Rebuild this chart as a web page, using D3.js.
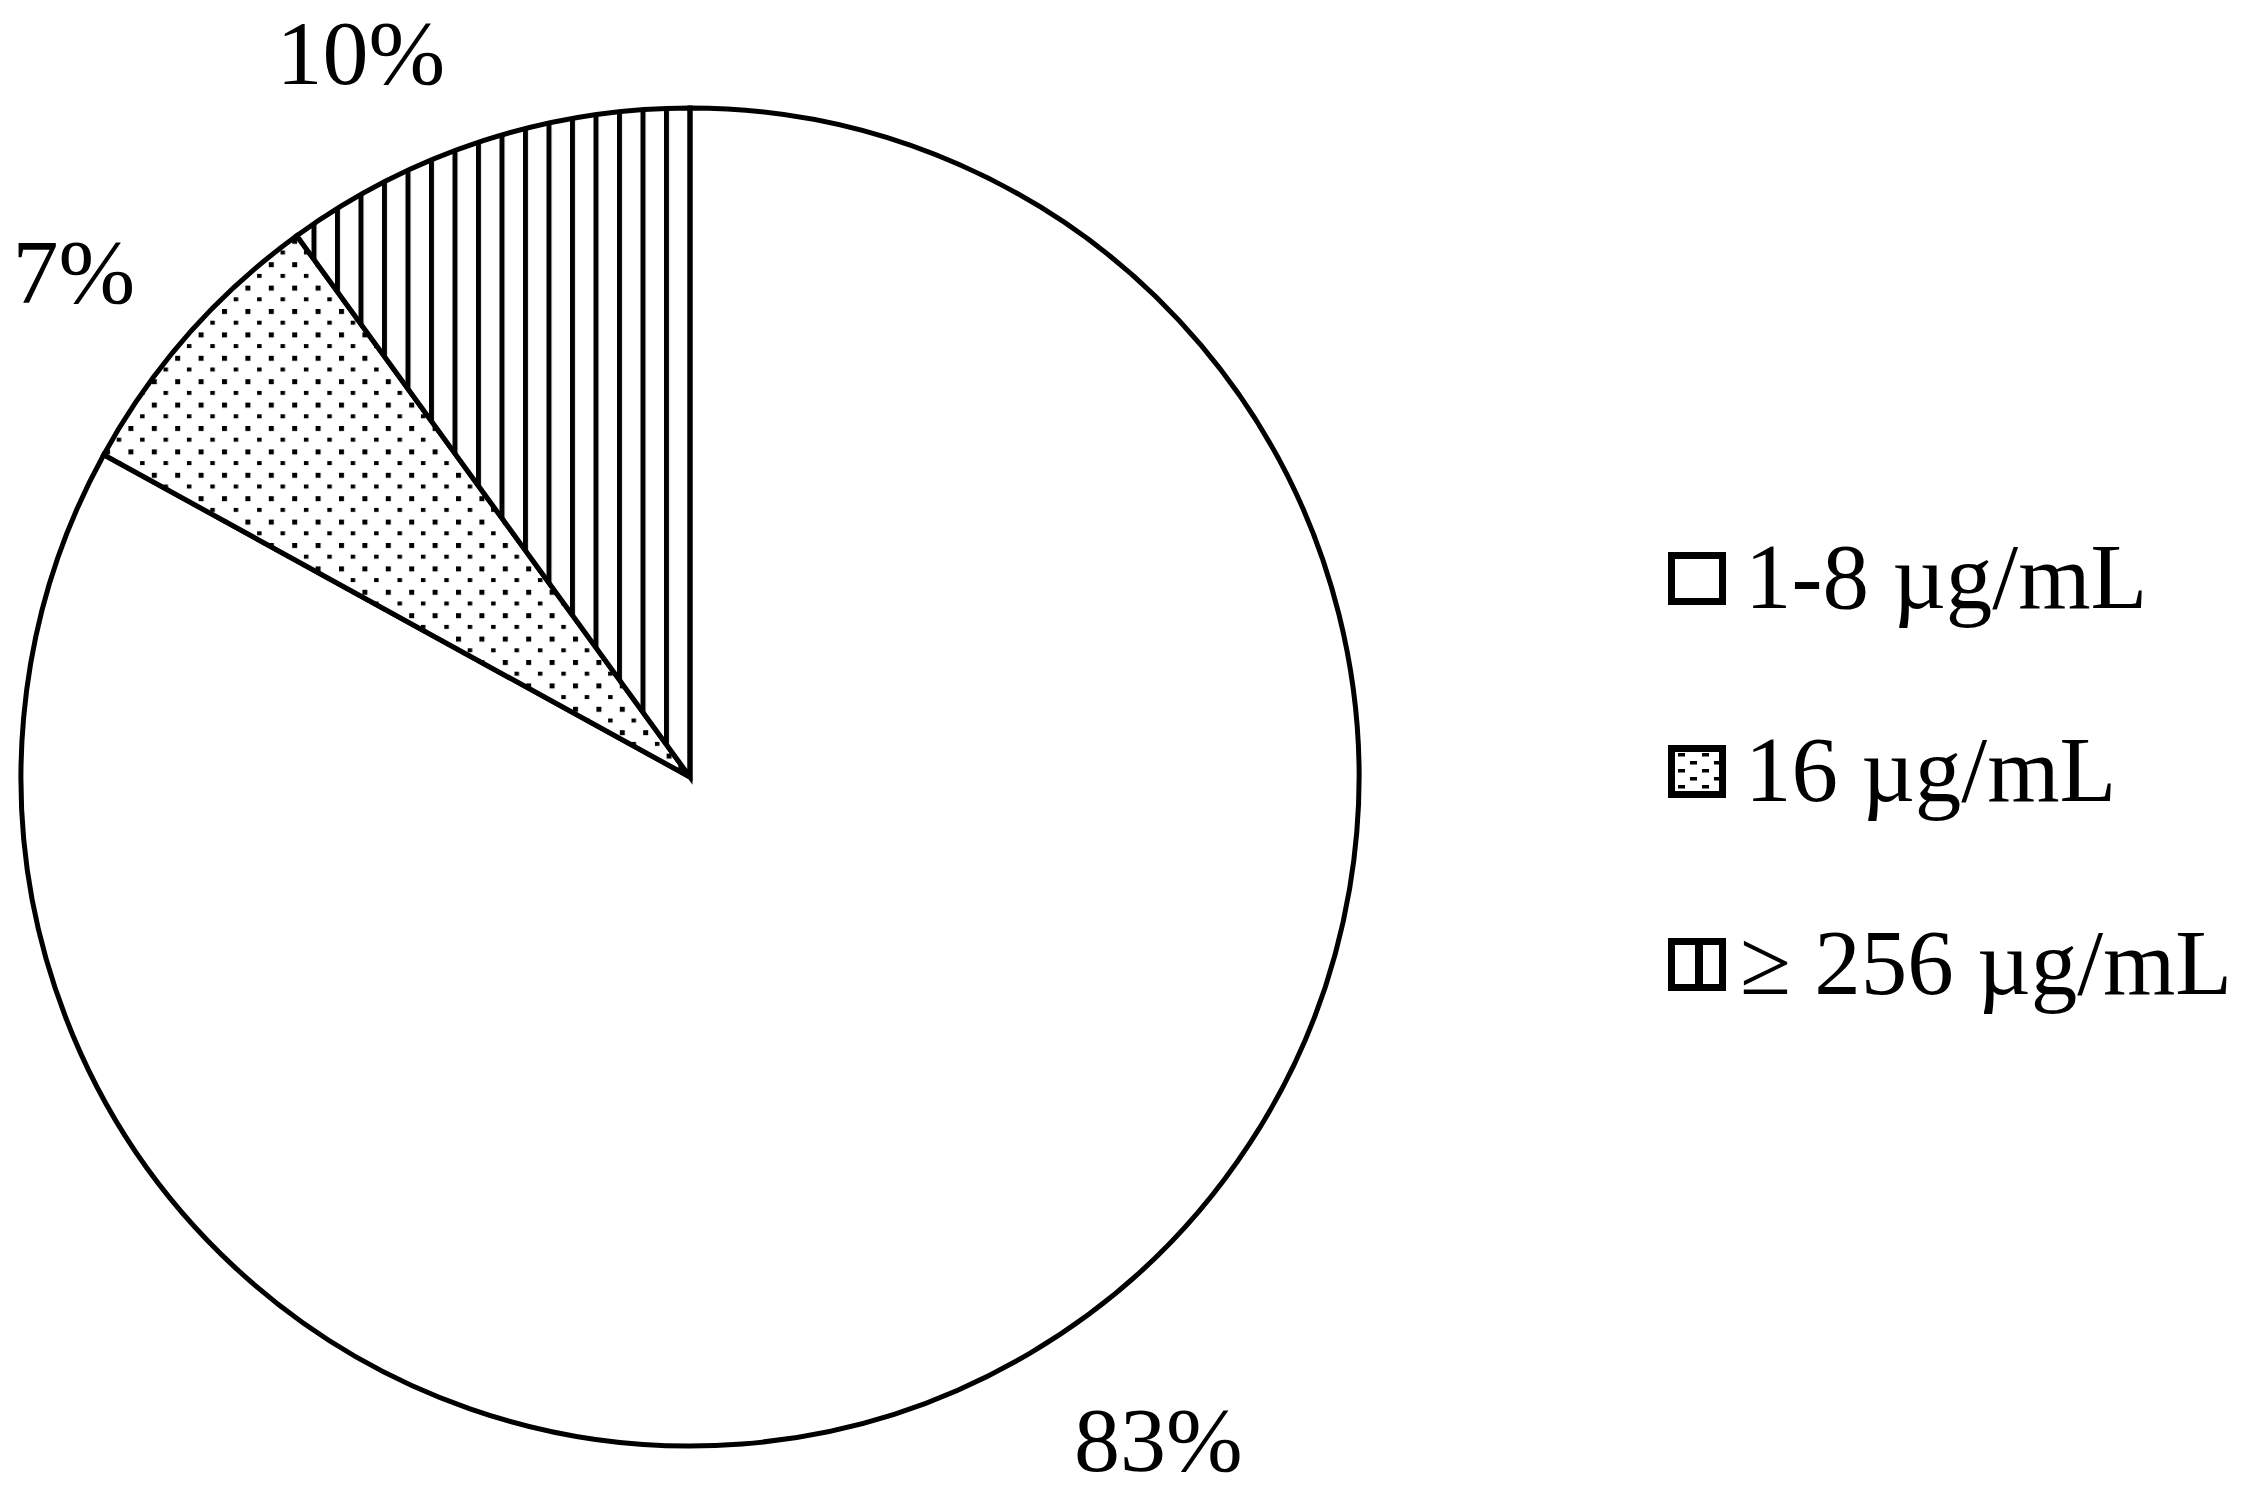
<!DOCTYPE html>
<html>
<head>
<meta charset="utf-8">
<script src="https://cdn.jsdelivr.net/npm/d3@7/dist/d3.min.js"></script>
<style>
  html, body { margin: 0; padding: 0; background: #fff; }
  svg { display: block; }
  text { font-family: "Liberation Serif", "Times New Roman", serif; fill: #000; }
</style>
</head>
<body>
<svg id="chart" width="2252" height="1494"></svg>
<script>
// ---- data ----
const categories = ["1-8 µg/mL", "16 µg/mL", "≥ 256 µg/mL"];
const values = [83, 7, 10];
const pctLabels = ["83%", "7%", "10%"];
const patterns = ["none", "dots", "vlines"];

// ---- layout ----
const cx = 690, cy = 777, R = 669;
const labelR = 800;
const labelNudge = [[61, -27], [-16, 23], [-82, 36]];
const fontSize = 92;

const svg = d3.select("#chart");
const defs = svg.append("defs");

// dotted pattern (quincunx), coordinates relative to pie centre group
const pd = defs.append("pattern")
  .attr("id", "dots").attr("patternUnits", "userSpaceOnUse")
  .attr("width", 23.4).attr("height", 23.4)
  .attr("x", 0).attr("y", 0);
pd.append("rect").attr("width", 23.4).attr("height", 23.4).attr("fill", "#fff");
pd.append("rect").attr("x", 0).attr("y", 0).attr("width", 5).attr("height", 5).attr("fill", "#000");
pd.append("rect").attr("x", 11.7).attr("y", 11.7).attr("width", 4.5).attr("height", 4).attr("fill", "#000");

// vertical lines pattern
const pv = defs.append("pattern")
  .attr("id", "vlines").attr("patternUnits", "userSpaceOnUse")
  .attr("width", 23.5).attr("height", 40)
  .attr("x", -2.5).attr("y", 0);
pv.append("rect").attr("width", 23.5).attr("height", 40).attr("fill", "#fff");
pv.append("rect").attr("x", 0).attr("y", 0).attr("width", 5).attr("height", 40).attr("fill", "#000");

// legend dot pattern
const lpd = defs.append("pattern")
  .attr("id", "ldots").attr("patternUnits", "userSpaceOnUse")
  .attr("width", 24).attr("height", 16)
  .attr("x", 1678).attr("y", 0);
lpd.append("rect").attr("width", 24).attr("height", 16).attr("fill", "#fff");
lpd.append("rect").attr("x", 0).attr("y", 0).attr("width", 7).attr("height", 3.5).attr("fill", "#000");
lpd.append("rect").attr("x", 12).attr("y", 8).attr("width", 7).attr("height", 3.5).attr("fill", "#000");

const pie = d3.pie().sort(null).value(d => d).startAngle(0).endAngle(2 * Math.PI);
const arcs = pie(values);
const arc = d3.arc().innerRadius(0).outerRadius(R);
const labelArc = d3.arc().innerRadius(labelR).outerRadius(labelR);

const g = svg.append("g").attr("transform", `translate(${cx},${cy})`);

g.selectAll("path.slice")
  .data(arcs)
  .join("path")
  .attr("class", "slice")
  .attr("d", arc)
  .attr("fill", (d, i) => {
    const p = patterns[i];
    if (p === "dots") return "url(#dots)";
    if (p === "vlines") return "url(#vlines)";
    return "#fff";
  })
  .attr("stroke", "#000")
  .attr("stroke-width", 5)
  .attr("stroke-linejoin", "miter");

g.selectAll("text.pct")
  .data(arcs)
  .join("text")
  .attr("class", "pct")
  .attr("x", (d, i) => labelArc.centroid(d)[0] + labelNudge[i][0])
  .attr("y", (d, i) => labelArc.centroid(d)[1] + labelNudge[i][1])
  .attr("dy", "0.35em")
  .attr("text-anchor", "middle")
  .attr("font-size", fontSize)
  .text((d, i) => pctLabels[i]);

// ---- legend ----
const legX = 1668, legY0 = 552, legStep = 193, boxW = 58, boxH = 53, sw = 7;
const leg = svg.append("g");
const items = leg.selectAll("g.item")
  .data(categories)
  .join("g")
  .attr("class", "item")
  .attr("transform", (d, i) => `translate(${legX},${legY0 + i * legStep})`);

items.append("rect")
  .attr("x", sw / 2).attr("y", sw / 2)
  .attr("width", boxW - sw).attr("height", boxH - sw)
  .attr("fill", (d, i) => patterns[i] === "dots" ? "url(#ldots)" : "#fff")
  .attr("stroke", "#000")
  .attr("stroke-width", sw);

items.filter((d, i) => patterns[i] === "vlines")
  .append("rect")
  .attr("x", 27).attr("y", sw).attr("width", 8).attr("height", boxH - 2 * sw)
  .attr("fill", "#000");

items.append("text")
  .attr("x", (d, i) => i === 2 ? 72 : 77)
  .attr("y", boxH + 3)
  .attr("font-size", 93)
  .text(d => d);
</script>
</body>
</html>
